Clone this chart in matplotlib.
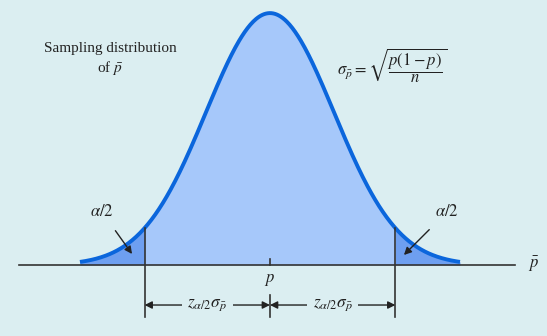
import numpy as np
import matplotlib.pyplot as plt

plt.rcParams['mathtext.fontset'] = 'stix'
plt.rcParams['font.family'] = ['Liberation Serif', 'DejaVu Serif']

# standardized units: z in sigma, height relative to peak
z_crit = 1.96
z_tail = 2.97
z = np.linspace(-z_tail, z_tail, 400)
dens = np.exp(-z ** 2 / 2)

bg = '#dbeef1'
fig = plt.figure(figsize=(5.47, 3.36), dpi=100, facecolor=bg)
ax = fig.add_axes([0, 0, 1, 1])
ax.set_facecolor(bg)
ax.set_xlim(-4.22, 4.33)
ax.set_ylim(-0.282, 1.052)
ax.axis('off')

mid = np.abs(z) <= z_crit
ax.fill_between(z, 0, dens, where=mid, color='#a6c8fa', lw=0)
ax.fill_between(z, 0, dens, where=z <= -z_crit + 0.005, color='#6e9ff0', lw=0)
ax.fill_between(z, 0, dens, where=z >= z_crit - 0.005, color='#6e9ff0', lw=0)
ax.plot(z, dens, color='#0b66dc', lw=2.8, solid_capstyle='butt')

# horizontal axis
ax.plot([-3.92, 3.83], [0, 0], color='#333333', lw=1.2)
ax.text(4.03, 0.0, r'$\bar{p}$', fontsize=12, va='center', ha='left', color='#222222')
ax.plot([0, 0], [0, 0.024], color='#333333', lw=1.2)
ax.text(0, -0.06, r'$p$', fontsize=12, ha='center', va='center', color='#222222')

# critical lines
hc = np.exp(-z_crit ** 2 / 2)
for s in (-1, 1):
    ax.plot([s * z_crit, s * z_crit], [-0.205, hc], color='#333333', lw=1.2)
ax.plot([0, 0], [-0.118, -0.205], color='#333333', lw=1.2)

# dimension arrows
y_arr = -0.159
for a, b in ((-z_crit, 0), (0, z_crit)):
    ax.annotate('', xy=(a, y_arr), xytext=(b, y_arr),
                arrowprops=dict(arrowstyle='<|-|>', color='#222222', lw=1.0,
                                mutation_scale=11, shrinkA=0, shrinkB=0))
    ax.text((a + b) / 2, y_arr, r'$z_{\alpha/2}\sigma_{\bar{p}}$', fontsize=12.5,
            ha='center', va='center', color='#222222',
            bbox=dict(boxstyle='square,pad=0.3', fc=bg, ec='none'))

# alpha/2 labels
ax.annotate(r'$\alpha/2$', xy=((132 - 270) / 64, (265 - 254) / 252),
            xytext=((102 - 270) / 64, (265 - 212) / 252),
            fontsize=12, ha='center', va='center', color='#222222',
            arrowprops=dict(arrowstyle='-|>', color='#222222', lw=1.0,
                            mutation_scale=11, shrinkA=7, shrinkB=0))
ax.annotate(r'$\alpha/2$', xy=((404 - 270) / 64, (265 - 255) / 252),
            xytext=((447 - 270) / 64, (265 - 212) / 252),
            fontsize=12, ha='center', va='center', color='#222222',
            arrowprops=dict(arrowstyle='-|>', color='#222222', lw=1.0,
                            mutation_scale=11, shrinkA=7, shrinkB=0))

# annotations
ax.text((110 - 270) / 64, (265 - 48) / 252, 'Sampling distribution',
        fontsize=11, ha='center', va='center', color='#222222')
ax.text((110 - 270) / 64, (265 - 68) / 252, r'of $\bar{p}$',
        fontsize=11, ha='center', va='center', color='#222222')
ax.text((337 - 270) / 64, (265 - 66) / 252,
        r'$\sigma_{\bar{p}} = \sqrt{\dfrac{p(1-p)}{n}}$',
        fontsize=12, ha='left', va='center', color='#222222')

fig.savefig('out.png', dpi=100, facecolor=bg)
